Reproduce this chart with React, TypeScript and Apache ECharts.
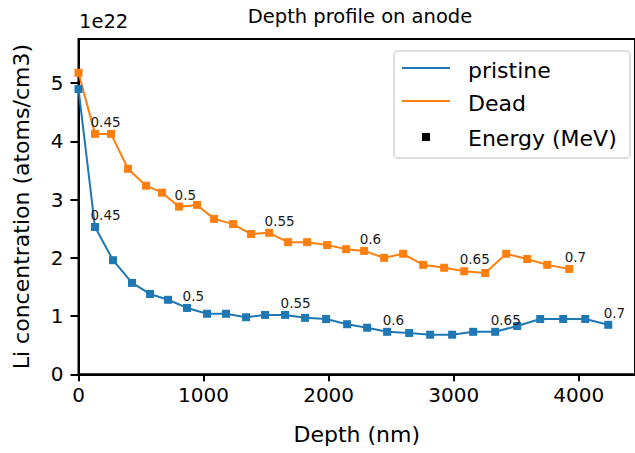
import React, { useEffect, useRef } from "react";
import * as echarts from "echarts";

const depthPristine = [0, 132, 276, 428, 572, 716, 868, 1028, 1180, 1340, 1492, 1652, 1812, 1980, 2148, 2308, 2468, 2644, 2812, 2988, 3156, 3332, 3508, 3692, 3876, 4052, 4236];
const valuesPristine = [4.9, 2.53, 1.96, 1.57, 1.38, 1.28, 1.14, 1.04, 1.04, 0.98, 1.02, 1.02, 0.97, 0.95, 0.86, 0.8, 0.73, 0.71, 0.68, 0.68, 0.73, 0.73, 0.83, 0.95, 0.95, 0.95, 0.85];
const depthDead = [0, 132, 260, 396, 540, 668, 804, 948, 1084, 1236, 1380, 1524, 1676, 1828, 1988, 2140, 2284, 2444, 2596, 2756, 2924, 3084, 3252, 3420, 3588, 3748, 3924];
const valuesDead = [5.18, 4.13, 4.13, 3.53, 3.24, 3.12, 2.88, 2.91, 2.67, 2.58, 2.41, 2.43, 2.27, 2.27, 2.22, 2.15, 2.12, 2.0, 2.07, 1.88, 1.83, 1.77, 1.74, 2.07, 1.98, 1.88, 1.81];
const energyIndex = [1, 6, 11, 16, 21, 26];
const energyLabels = ["0.45", "0.5", "0.55", "0.6", "0.65", "0.7"];
const xTicks = [0, 1000, 2000, 3000, 4000];
const yTicks = [0, 1, 2, 3, 4, 5];

const FONT = "DejaVu Sans";
const BLUE = "#1f77b4";
const ORANGE = "#ff7f0e";

export default function App() {
  const ref = useRef<HTMLDivElement>(null);
  useEffect(() => {
    if (!ref.current) return;
    const chart = echarts.init(ref.current, undefined, { renderer: "svg" });
    const mkSeries = (name: string, depth: number[], vals: number[], color: string) => ({
      name,
      type: "line",
      data: depth.map((d, i) => [d, vals[i]]),
      symbol: "rect",
      symbolSize: 8,
      showAllSymbol: true,
      lineStyle: { color, width: 2 },
      itemStyle: { color },
      label: {
        show: true,
        position: [-0.5, -1],
        align: "left",
        verticalAlign: "bottom",
        fontFamily: FONT,
        fontSize: 13.5,
        color: "#1a1a1a",
        formatter: (p: any) => {
          const k = energyIndex.indexOf(p.dataIndex);
          return k >= 0 ? energyLabels[k] : "";
        },
      },
      emphasis: { disabled: true },
      z: 3,
    });
    chart.setOption({
      animation: false,
      backgroundColor: "#ffffff",
      textStyle: { fontFamily: FONT },
      grid: {
        left: 78.5,
        top: 39,
        right: 0,
        bottom: 78.7,
        show: true,
        borderColor: "#000",
        borderWidth: 2,
        backgroundColor: "transparent",
      },
      xAxis: {
        type: "value",
        min: 0,
        max: 4450,
        name: "Depth (nm)",
        nameLocation: "middle",
        nameGap: 49,
        nameTextStyle: { fontFamily: FONT, fontSize: 22, color: "#000" },
        axisLine: { show: true, onZero: false, lineStyle: { color: "#000", width: 2 } },
        axisTick: { show: true, length: 7, lineStyle: { color: "#000", width: 2 }, customValues: xTicks },
        axisLabel: {
          fontFamily: FONT,
          fontSize: 20,
          color: "#000",
          margin: 11,
          customValues: xTicks,
          formatter: (v: number) => String(v),
        },
        splitLine: { show: false },
      },
      yAxis: {
        type: "value",
        min: 0,
        max: 5.76,
        name: "Li concentration (atoms/cm3)",
        nameLocation: "middle",
        nameGap: 46,
        nameTextStyle: { fontFamily: FONT, fontSize: 22, color: "#000" },
        axisLine: { show: true, onZero: false, lineStyle: { color: "#000", width: 2 } },
        axisTick: { show: true, length: 8, lineStyle: { color: "#000", width: 2 }, customValues: yTicks },
        axisLabel: {
          fontFamily: FONT,
          fontSize: 20,
          color: "#000",
          margin: 15,
          customValues: yTicks,
          formatter: (v: number) => String(v),
        },
        splitLine: { show: false },
      },
      series: [
        mkSeries("pristine", depthPristine, valuesPristine, BLUE),
        mkSeries("Dead", depthDead, valuesDead, ORANGE),
      ],
      graphic: [
        {
          type: "text",
          x: 360,
          y: 6,
          style: { text: "Depth profile on anode", fontFamily: FONT, fontSize: 19.5, fill: "#000", textAlign: "center", textVerticalAlign: "top" },
        },
        {
          type: "text",
          x: 79,
          y: 11,
          style: { text: "1e22", fontFamily: FONT, fontSize: 19.5, fill: "#000", textAlign: "left", textVerticalAlign: "top" },
        },
        {
          type: "group",
          z: 10,
          children: [
            {
              type: "rect",
              shape: { x: 394, y: 51, width: 236, height: 107, r: 4 },
              style: { fill: "rgba(255,255,255,0.85)", stroke: "#d4d4d4", lineWidth: 1.5 },
            },
            { type: "line", shape: { x1: 402, y1: 68, x2: 450, y2: 68 }, style: { stroke: BLUE, lineWidth: 2 } },
            { type: "line", shape: { x1: 402, y1: 101, x2: 450, y2: 101 }, style: { stroke: ORANGE, lineWidth: 2 } },
            { type: "rect", shape: { x: 422, y: 133, width: 8, height: 8 }, style: { fill: "#000" } },
            {
              type: "text",
              x: 468,
              y: 70,
              style: { text: "pristine", fontFamily: FONT, fontSize: 22, fill: "#000", textVerticalAlign: "middle" },
            },
            {
              type: "text",
              x: 468,
              y: 103,
              style: { text: "Dead", fontFamily: FONT, fontSize: 22, fill: "#000", textVerticalAlign: "middle" },
            },
            {
              type: "text",
              x: 468,
              y: 138,
              style: { text: "Energy (MeV)", fontFamily: FONT, fontSize: 22, fill: "#000", textVerticalAlign: "middle" },
            },
          ],
        },
      ],
    });
    return () => chart.dispose();
  }, []);
  return <div ref={ref} style={{ position: "fixed", left: 0, top: 0, width: 635, height: 453 }} />;
}
